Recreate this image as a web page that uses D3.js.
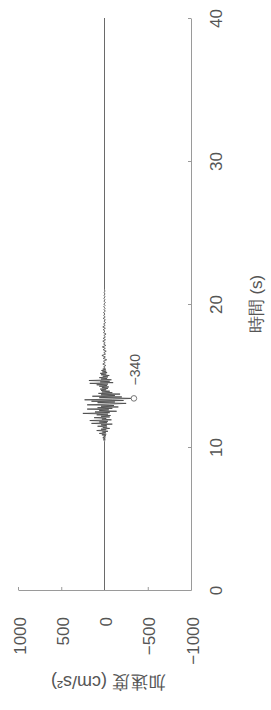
<!DOCTYPE html>
<html>
<head>
<meta charset="utf-8">
<script src="https://cdn.jsdelivr.net/npm/d3@7"></script>
<style>
  body { margin: 0; background: #fff; }
  svg { display: block; }
  text { font-family: "Liberation Sans", Arial, sans-serif; fill: #555; }
  .axis path, .axis line { stroke: #9a9a9a; }
</style>
</head>
<body>
<svg id="chart" width="271" height="710"></svg>
<script>
// --- Data ---
const timeTicks = [0, 10, 20, 30, 40];
const accelTicks = [1000, 500, 0, -500, -1000];
const timeLabel = "時間 (s)";
const accelLabel = "加速度 (cm/s²)";

// quiet parts of the record: [time, accel]
const preEvent = [[0, 0], [10.4, 0]];
const postEvent = [[21.0, 0], [40, 0]];

// strong motion, sampled every 0.05 s from 10.40 s
const strongStart = 10.4;
const strongDt = 0.05;
const strongAccel = [
  0, 8, -10, 15, -8, 20, -12, 10, -15,
  30, -20, 60, -15, 25, -40, 90, -20, 40, -60, 20, -30, 80, -25,
  40, -90, 150, -30, 60, -40, 170, -80, 30, -20, 120, -60, 40, -70,
  90, -40, 250, -60, 110, -140, 60, -50, 200, -90, 80,
  -160, 40, -110, 200, -60, -250, 80, -120, 150, -220, 230,
  -90, -340, 60, -200, 140, -120, 40, -180, 70, -90,
  30, -60, 40, -20, 50, -40, 30, -50, 60, -30,
  90, -40, 170, -100, 50, -60, 180, -80, 40, -30,
  60, -40, 20, -55, 40, -20, 50, -30, 25, -20, 35, -15, 20, -10
];

// coda, sampled every 0.1 s from 15.6 s
const codaStart = 15.6;
const codaDt = 0.1;
const codaAccel = [
  10, -15, 20, -8, 12, -25, 15, -10, 30, -12,
  8, -20, 15, -10, 25, -15, 10, -8, 20, -12,
  15, -10, 8, -18, 12, -6, 15, -10, 20, -8,
  10, -12, 6, -10, 15, -8, 10, -6, 12, -10,
  6, -8, 10, -6, 8, -10, 6, -5, 8, -6,
  5, -5, 4, -4
];

const peak = { t: 13.4, a: -340, label: "−340" };

// --- Build the record ---
const record = [];
preEvent.forEach(d => record.push(d));
strongAccel.forEach((a, i) => record.push([strongStart + i * strongDt, a]));
codaAccel.forEach((a, i) => record.push([codaStart + i * codaDt, a]));
postEvent.forEach(d => record.push(d));

// --- Chart (drawn rotated: time runs upward, acceleration leftward) ---
const svg = d3.select("#chart");

const yTime = d3.scaleLinear().domain([0, 40]).range([590, 18]);
const xAccel = d3.scaleLinear().domain([1000, -1000]).range([18, 191]);

// time axis on the right
const timeAxis = svg.append("g")
  .attr("class", "axis")
  .attr("transform", `translate(${xAccel(-1000)},0)`)
  .call(d3.axisRight(yTime).tickValues(timeTicks).tickSize(-3).tickSizeOuter(0));
timeAxis.selectAll("text")
  .attr("x", null).attr("dy", null)
  .attr("text-anchor", "middle")
  .attr("transform", "translate(31,0) rotate(-90)")
  .style("font-size", "17px")
  .attr("fill", "#555");

// acceleration axis at the bottom
const accelAxis = svg.append("g")
  .attr("class", "axis")
  .attr("transform", `translate(0,${yTime(0)})`)
  .call(d3.axisBottom(xAccel).tickValues(accelTicks).tickFormat(d3.format("d"))
    .tickSize(-3).tickSizeOuter(0));
accelAxis.selectAll("text")
  .attr("y", null).attr("dy", null)
  .attr("text-anchor", "end")
  .attr("transform", "translate(7,27) rotate(-90)")
  .style("font-size", "17px")
  .attr("fill", "#555");
accelAxis.selectAll(".tick line").filter(d => d === 0).remove();

// axis titles
svg.append("text")
  .attr("transform", `translate(262,${yTime(20)}) rotate(-90)`)
  .attr("text-anchor", "middle")
  .style("font-size", "17px")
  .text(timeLabel);

svg.append("text")
  .attr("transform", `translate(${xAccel(0) + 4},676) rotate(180)`)
  .attr("text-anchor", "middle")
  .style("font-size", "18px")
  .text(accelLabel);

// waveform
const line = d3.line()
  .x(d => xAccel(d[1]))
  .y(d => yTime(d[0]));

svg.append("path")
  .datum(record)
  .attr("fill", "none")
  .attr("stroke", "#444")
  .attr("stroke-width", 0.8)
  .attr("stroke-linejoin", "round")
  .attr("d", line);

// peak marker and label
svg.append("circle")
  .attr("cx", xAccel(peak.a))
  .attr("cy", yTime(peak.t))
  .attr("r", 2.8)
  .attr("fill", "#fff")
  .attr("stroke", "#777")
  .attr("stroke-width", 1);

svg.append("text")
  .attr("transform", `translate(${xAccel(peak.a) + 6},${yTime(peak.t) - 13}) rotate(-90)`)
  .attr("text-anchor", "start")
  .style("font-size", "14px")
  .text(peak.label);
</script>
</body>
</html>
